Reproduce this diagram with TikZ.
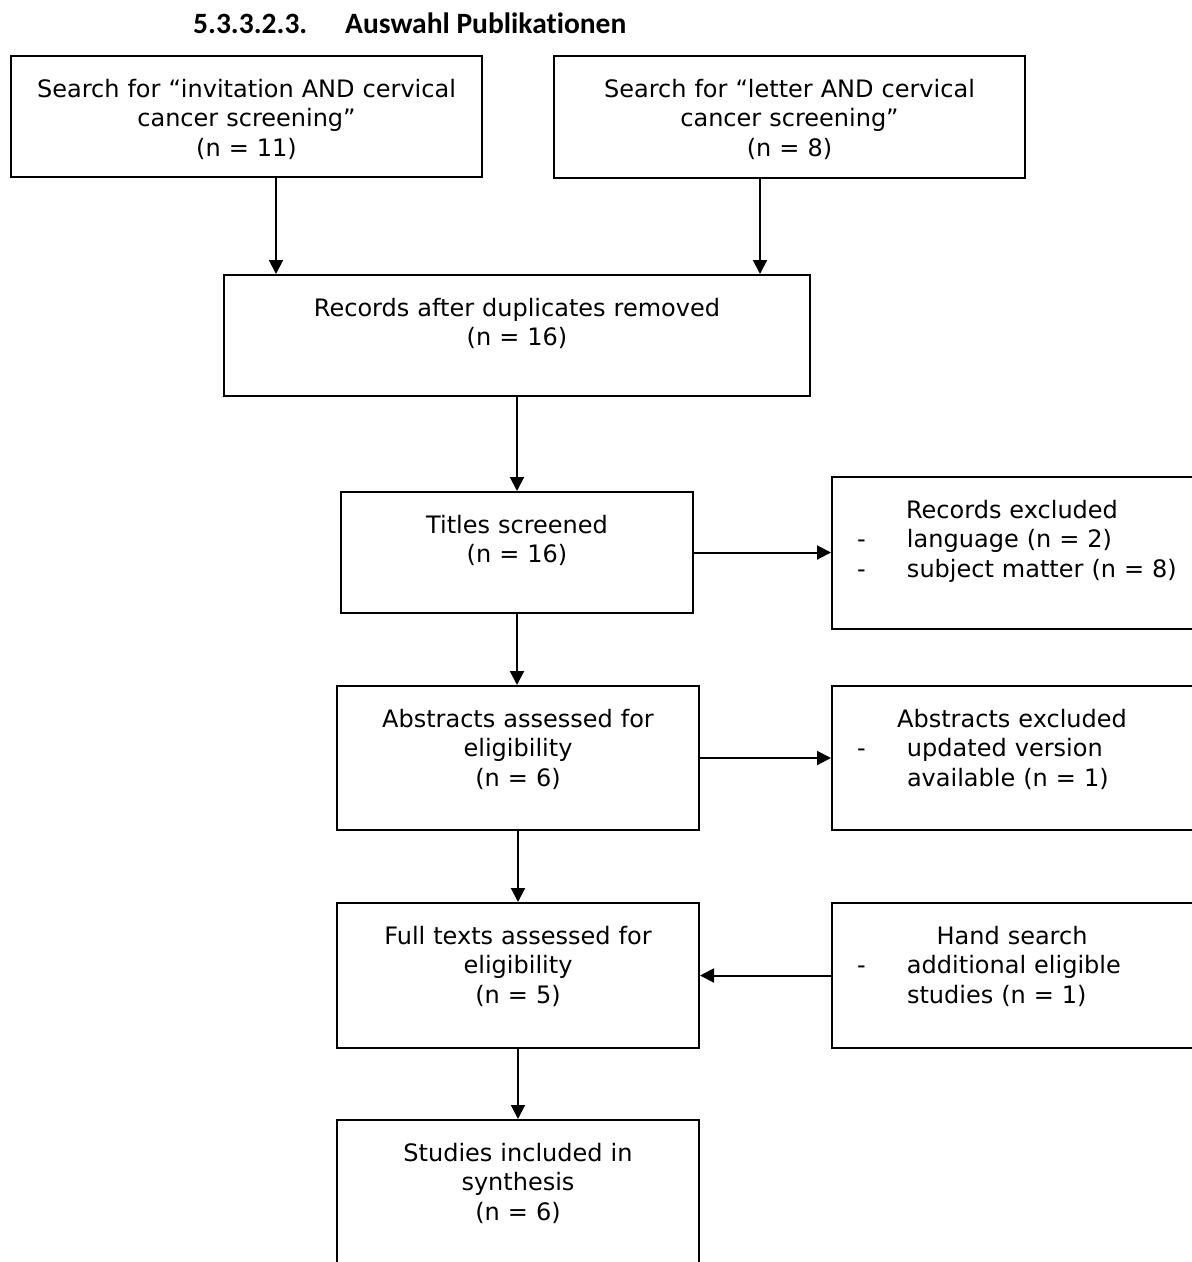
\documentclass[tikz,border=0pt]{standalone}
\usepackage{fontspec}
\usetikzlibrary{arrows.meta}
\newfontfamily\flowfont{DejaVu Sans}
\newfontfamily\headfont[Ligatures=NoCommon]{Carlito}
% lines of the exclusion boxes
\newcommand{\exclhead}[1]{\makebox[360pt]{#1}}
\newcommand{\exclitem}[1]{\hspace*{25pt}\makebox[50pt][l]{-}#1}
\newcommand{\exclcont}[1]{\hspace*{75pt}#1}
\tikzset{
  box/.style={draw, line width=2pt, inner sep=0pt, text height=41pt,
    font=\flowfont\fontsize{24}{29.5}\selectfont},
  mainbox/.style={box, align=center, anchor=north west},
  sidebox/.style={box, align=left, text width=380pt, anchor=north west},
  arr/.style={line width=2pt, -{Triangle[length=14pt,width=14pt]}},
  sectitle/.style={font=\headfont\bfseries\fontsize{29.5}{34}\selectfont,
    inner sep=0pt, anchor=base west}
}
\begin{document}
\begin{tikzpicture}[x=1pt,y=-1pt]
        \useasboundingbox (0,0) rectangle (1192,1262);
        \clip (0,0) rectangle (1192,1262);
        %% heading
        \node[sectitle] (secnum) at (193,33) {5.3.3.2.3.};
        \node[sectitle] (secname) at (345,33) {Auswahl Publikationen};
        %% searches
        \node[mainbox, text width=471pt, text depth=80pt] (search1) at (10,55)
            {Search for “invitation AND cervical\\ cancer screening”\\ (n = 11)};
        \node[mainbox, text width=471pt, text depth=81pt] (search2) at (553,55)
            {Search for “letter AND cervical\\ cancer screening”\\ (n = 8)};
        \node[mainbox, text width=586pt, text depth=80pt] (dedup) at (223,274)
            {Records after duplicates removed\\ (n = 16)};
        %% screening
        \node[mainbox, text width=352pt, text depth=80pt] (titles) at (340,491)
            {Titles screened\\ (n = 16)};
        \node[sidebox, text depth=111pt] (recexcl) at (831,476)
            {\exclhead{Records excluded}\\ \exclitem{language (n = 2)}\\ \exclitem{subject matter (n = 8)}};
        \node[mainbox, text width=362pt, text depth=103pt] (abstracts) at (336,685)
            {Abstracts assessed for\\ eligibility\\ (n = 6)};
        \node[sidebox, text depth=103pt] (absexcl) at (831,685)
            {\exclhead{Abstracts excluded}\\ \exclitem{updated version}\\ \exclcont{available (n = 1)}};
        %% full texts
        \node[mainbox, text width=362pt, text depth=104pt] (fulltexts) at (336,902)
            {Full texts assessed for\\ eligibility\\ (n = 5)};
        \node[sidebox, text depth=104pt] (handsearch) at (831,902)
            {\exclhead{Hand search}\\ \exclitem{additional eligible}\\ \exclcont{studies (n = 1)}};
        \node[mainbox, text width=362pt, text depth=103pt] (included) at (336,1119)
            {Studies included in\\ synthesis\\ (n = 6)};
        %% arrows
        \draw[arr] ([xshift=29.5pt]search1.south) -- ([xshift=29.5pt]search1.south |- dedup.north);
        \draw[arr] ([xshift=-29.5pt]search2.south) -- ([xshift=-29.5pt]search2.south |- dedup.north);
        \draw[arr] (dedup.south) -- (titles.north);
        \draw[arr] (titles.east) -- (titles.east -| recexcl.west);
        \draw[arr] (titles.south) -- (titles.south |- abstracts.north);
        \draw[arr] (abstracts.east) -- (abstracts.east -| absexcl.west);
        \draw[arr] (abstracts.south) -- (fulltexts.north);
        \draw[arr] (handsearch.west |- fulltexts.east) -- (fulltexts.east);
        \draw[arr] (fulltexts.south) -- (included.north);
    \end{tikzpicture}
\end{document}
